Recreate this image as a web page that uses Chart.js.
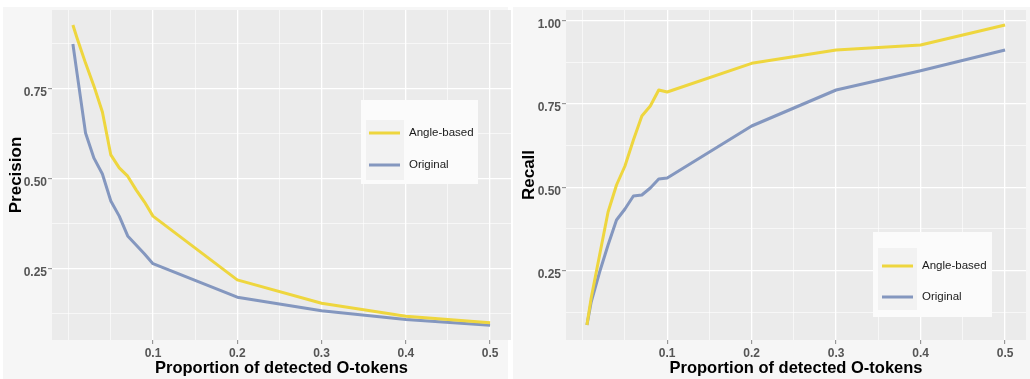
<!DOCTYPE html>
<html><head><meta charset="utf-8">
<script src="https://cdn.jsdelivr.net/npm/chart.js@4.4.1/dist/chart.umd.min.js"></script>
<style>
html,body{margin:0;padding:0;background:#fff;width:1030px;height:379px;overflow:hidden}
.p{position:absolute;top:0;height:379px}
#w1{left:0;width:512px}
#w2{left:513px;width:517px}
</style></head><body>
<div class="p" id="w1"><canvas id="c1"></canvas></div>
<div class="p" id="w2"><canvas id="c2"></canvas></div>
<script>
// ---- data ----
const proportions     = [0.005, 0.01, 0.02, 0.03, 0.04, 0.05, 0.06, 0.07, 0.08, 0.09, 0.1, 0.2, 0.3, 0.4, 0.5];
const precisionAngle  = [0.926, 0.889, 0.820, 0.756, 0.684, 0.565, 0.529, 0.506, 0.468, 0.434, 0.395, 0.218, 0.153, 0.117, 0.099];
const precisionOrig   = [0.873, 0.790, 0.626, 0.556, 0.512, 0.437, 0.395, 0.340, 0.315, 0.290, 0.263, 0.170, 0.132, 0.108, 0.092];
const recallAngle     = [0.087, 0.168, 0.297, 0.426, 0.507, 0.564, 0.642, 0.714, 0.744, 0.792, 0.786, 0.872, 0.912, 0.927, 0.987];
const recallOrig      = [0.087, 0.156, 0.246, 0.327, 0.402, 0.435, 0.474, 0.477, 0.498, 0.525, 0.528, 0.684, 0.792, 0.850, 0.912];
const seriesNames     = ['Angle-based', 'Original'];
const xTickValues     = [0.1, 0.2, 0.3, 0.4, 0.5];
const xTickLabels     = ['0.1', '0.2', '0.3', '0.4', '0.5'];
const xMinorValues    = [0, 0.05, 0.15, 0.25, 0.35, 0.45];
const precTickValues  = [0.25, 0.5, 0.75];
const precTickLabels  = ['0.25', '0.50', '0.75'];
const recTickValues   = [0.25, 0.5, 0.75, 1.0];
const recTickLabels   = ['0.25', '0.50', '0.75', '1.00'];
const yMinorValues    = [0.125, 0.375, 0.625, 0.875];

// ---- style ----
const YELLOW = '#EED63E';
const BLUE = '#8497BF';
const FONT = "'Liberation Sans', Arial, sans-serif";

function pts(xs, ys){ return xs.map((x,i)=>({x:x, y:ys[i]})); }
function isIn(arr, v){ return arr.some(t=>Math.abs(t-v)<1e-9); }

const bgPlugin = {
  id:'ggBg',
  beforeDraw(chart, args, opts){
    const ctx = chart.ctx, a = chart.chartArea;
    ctx.save();
    ctx.fillStyle = '#f6f6f6';
    ctx.fillRect(opts.panel[0], opts.panel[1], opts.panel[2], opts.panel[3]);
    ctx.fillStyle = '#ebebeb';
    ctx.fillRect(a.left, a.top, a.right-a.left, a.bottom-a.top);
    ctx.restore();
  }
};
const legendPlugin = {
  id:'ggLegend',
  afterDatasetsDraw(chart, args, o){
    const ctx = chart.ctx;
    ctx.save();
    ctx.fillStyle = '#fbfbfb';
    ctx.fillRect(o.box[0], o.box[1], o.box[2], o.box[3]);
    ctx.fillStyle = '#f2f2f2';
    ctx.fillRect(o.key[0], o.key[1], o.key[2], o.key[3]);
    chart.data.datasets.forEach((ds,i)=>{
      const y = o.rows[i];
      ctx.strokeStyle = ds.borderColor; ctx.lineWidth = 3; ctx.lineCap='butt';
      ctx.beginPath(); ctx.moveTo(o.lineX[0], y); ctx.lineTo(o.lineX[1], y); ctx.stroke();
      ctx.fillStyle = '#1a1a1a';
      ctx.font = '11.5px ' + FONT;
      ctx.textBaseline = 'middle'; ctx.textAlign = 'left';
      ctx.fillText(ds.label, o.textX, y);
    });
    ctx.restore();
  }
};

function makeChart(id, cfg){
  const xAll = xMinorValues.concat(xTickValues).sort((a,b)=>a-b);
  const yAll = yMinorValues.concat(cfg.yTicks).sort((a,b)=>a-b);
  return new Chart(document.getElementById(id), {
    type:'line',
    data:{ datasets:[
      {label:seriesNames[0], data:pts(proportions, cfg.a), borderColor:YELLOW, borderWidth:3, pointRadius:0, tension:0, borderJoinStyle:'round'},
      {label:seriesNames[1], data:pts(proportions, cfg.b), borderColor:BLUE, borderWidth:3, pointRadius:0, tension:0, borderJoinStyle:'round'}
    ]},
    options:{
      responsive:true, maintainAspectRatio:false, animation:false, devicePixelRatio:1,
      layout:{padding:{left:0, top:10, right:cfg.padRight, bottom:0}},
      plugins:{ legend:{display:false}, tooltip:{enabled:false},
        ggBg:{panel:cfg.panel}, ggLegend:cfg.legend },
      scales:{
        x:{ type:'linear', min:-0.0198, max:0.5248,
          afterBuildTicks:(s)=>{ s.ticks = xAll.map(v=>({value:v})); },
          afterFit:(s)=>{ s.height = 39; },
          ticks:{ autoSkip:false, maxRotation:0, padding:2, color:'#555',
            font:{family:FONT, size:12, weight:'bold'},
            callback:(v)=>{ const i = xTickValues.findIndex(t=>Math.abs(t-v)<1e-9); return i>=0 ? xTickLabels[i] : ''; } },
          grid:{ color:'#ffffff', tickLength:4, tickWidth:1,
            lineWidth:(c)=> isIn(xTickValues, c.tick.value) ? 1.3 : 0.6,
            tickColor:(c)=> isIn(xTickValues, c.tick.value) ? '#888' : 'rgba(0,0,0,0)' },
          border:{display:false},
          title:{ display:true, text:'Proportion of detected O-tokens', color:'#000',
            font:{family:FONT, size:16.5, weight:'bold'}, padding:{top:0,bottom:1} }
        },
        y:{ type:'linear', min:cfg.ymin, max:cfg.ymax,
          afterBuildTicks:(s)=>{ s.ticks = yAll.map(v=>({value:v})); },
          afterFit:(s)=>{ s.width = cfg.yw; },
          ticks:{ autoSkip:false, padding:1, labelOffset:4, color:'#555',
            font:{family:FONT, size:12, weight:'bold'},
            callback:(v)=>{ const i = cfg.yTicks.findIndex(t=>Math.abs(t-v)<1e-9); return i>=0 ? cfg.yLabels[i] : ''; } },
          grid:{ color:'#ffffff', tickLength:4, tickWidth:1,
            lineWidth:(c)=> isIn(cfg.yTicks, c.tick.value) ? 1.3 : 0.6,
            tickColor:(c)=> isIn(cfg.yTicks, c.tick.value) ? '#888' : 'rgba(0,0,0,0)' },
          border:{display:false},
          title:{ display:true, text:cfg.yTitle, color:'#000',
            font:{family:FONT, size:17, weight:'bold'}, padding:{top:6,bottom:0} }
        }
      }
    },
    plugins:[bgPlugin, legendPlugin]
  });
}

makeChart('c1', {
  a:precisionAngle, b:precisionOrig, ymin:0.051, ymax:0.9675,
  yTicks:precTickValues, yLabels:precTickLabels, yTitle:'Precision',
  yw:52, padRight:1, panel:[3,7,505,372],
  legend:{box:[361,100,117,84], key:[366,120,38,60], lineX:[369,400], rows:[133,165], textX:409}
});
makeChart('c2', {
  a:recallAngle, b:recallOrig, ymin:0.042, ymax:1.032,
  yTicks:recTickValues, yLabels:recTickLabels, yTitle:'Recall',
  yw:53, padRight:4, panel:[0,7,517,372],
  legend:{box:[360,232,119,85], key:[365,248,39,62], lineX:[369,400], rows:[266,297], textX:409}
});
</script>
</body></html>
